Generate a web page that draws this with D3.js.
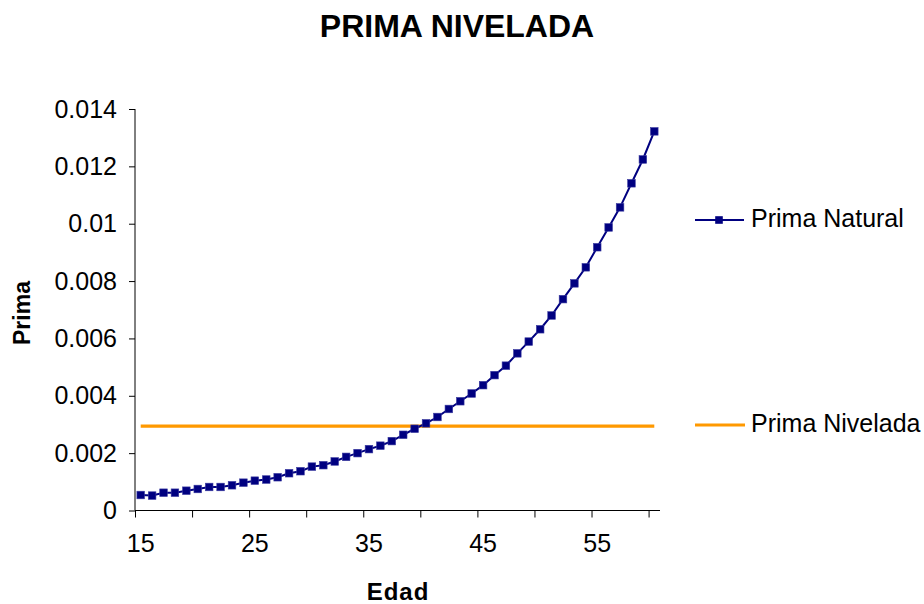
<!DOCTYPE html>
<html>
<head>
<meta charset="utf-8">
<script src="https://cdn.jsdelivr.net/npm/d3@7"></script>
<style>
  html, body { margin: 0; padding: 0; background: #fff; }
  svg { display: block; font-family: "Liberation Sans", Arial, sans-serif; }
</style>
</head>
<body>
<svg id="chart" width="924" height="604"></svg>
<script>
// Ages on the category axis
const edades = d3.range(15, 61);
// Natural (yearly) premium per age
const primaNatural = [
  0.00054, 0.00052, 0.00062, 0.00062, 0.00069, 0.00075, 0.00082, 0.00082, 0.00088, 0.00097,
  0.00104, 0.00108, 0.00116, 0.00130, 0.00137, 0.00153, 0.00158, 0.00171, 0.00187, 0.00200,
  0.00214, 0.00226, 0.00242, 0.00264, 0.00285, 0.00304, 0.00326, 0.00354, 0.00381, 0.00408,
  0.00437, 0.00472, 0.00505, 0.00548, 0.00589, 0.00632, 0.00680, 0.00737, 0.00792, 0.00848,
  0.00918, 0.00987, 0.01057, 0.01141, 0.01224, 0.01322
];
// Level premium, constant across ages
const primaNivelada = edades.map(() => 0.00294);
// Axis ticks
const yTicks = [0, 0.002, 0.004, 0.006, 0.008, 0.01, 0.012, 0.014];
const xLabels = [15, 25, 35, 45, 55];
const seriesNames = ["Prima Natural", "Prima Nivelada"];

const navy = "#000080";
const orange = "#FF9900";

const svg = d3.select("#chart");
const plotLeft = 135, plotRight = 660, plotTop = 109, plotBottom = 510.5;

const x = d3.scaleBand().domain(edades).range([plotLeft, plotRight]).padding(0);
const xIdx = d3.scaleLinear().domain([0, edades.length]).range([plotLeft, plotRight]);
const y = d3.scaleLinear().domain([0, 0.014]).range([plotBottom, plotTop]);

// Title
svg.append("text")
  .attr("x", 457).attr("y", 37)
  .attr("text-anchor", "middle")
  .attr("font-size", 32).attr("font-weight", "bold")
  .text("PRIMA NIVELADA");

// Y axis
const yAxis = svg.append("g")
  .attr("transform", `translate(${plotLeft},0)`)
  .call(d3.axisLeft(y).tickValues(yTicks).tickSize(6).tickPadding(12)
    .tickFormat(d => String(+d.toFixed(3))));
yAxis.selectAll("text").attr("font-size", 25).attr("fill", "#000")
  .attr("font-family", "Liberation Sans, Arial, sans-serif");
yAxis.selectAll("line, path").attr("stroke", "#000");
yAxis.select(".domain").attr("d", `M0,${plotTop}H0V${plotBottom}`);

// X axis: tick marks every five categories, on category boundaries
const xTickAxis = svg.append("g")
  .attr("transform", `translate(0,${plotBottom})`)
  .call(d3.axisBottom(xIdx).tickValues(d3.range(0, edades.length, 5)).tickSize(7).tickFormat(""));
xTickAxis.selectAll("line, path").attr("stroke", "#000");
xTickAxis.select(".domain").attr("d", `M${plotLeft},0H${plotRight}`);

// X axis: labels centred on their categories
const xLabelAxis = svg.append("g")
  .attr("transform", `translate(0,${plotBottom})`)
  .call(d3.axisBottom(x).tickValues(xLabels).tickSize(0).tickPadding(24));
xLabelAxis.select(".domain").remove();
xLabelAxis.selectAll("text").attr("font-size", 25).attr("fill", "#000")
  .attr("font-family", "Liberation Sans, Arial, sans-serif");

// Axis titles
svg.append("text")
  .attr("x", 398).attr("y", 600)
  .attr("text-anchor", "middle")
  .attr("font-size", 24).attr("font-weight", "bold")
  .attr("letter-spacing", 1)
  .text("Edad");
svg.append("text")
  .attr("transform", "translate(30,313) rotate(-90)")
  .attr("text-anchor", "middle")
  .attr("font-size", 23).attr("font-weight", "bold")
  .text("Prima");

const cx = d => x(d) + x.bandwidth() / 2;

// Level premium line
svg.append("path")
  .datum(primaNivelada)
  .attr("fill", "none").attr("stroke", orange).attr("stroke-width", 3.2)
  .attr("d", d3.line().x((d, i) => cx(edades[i])).y(d => y(d)));

// Natural premium line with square markers
svg.append("path")
  .datum(primaNatural)
  .attr("fill", "none").attr("stroke", navy).attr("stroke-width", 2)
  .attr("d", d3.line().x((d, i) => cx(edades[i])).y(d => y(d)));

svg.append("g").selectAll("rect")
  .data(primaNatural)
  .join("rect")
  .attr("x", (d, i) => cx(edades[i]) - 3.8)
  .attr("y", d => y(d) - 3.8)
  .attr("width", 7.6).attr("height", 7.6)
  .attr("fill", navy).attr("stroke", "#3a3aa0").attr("stroke-width", 0.6);

// Legend
const legend = svg.append("g");
const legendY = [220, 425];
legend.append("line")
  .attr("x1", 695).attr("x2", 744).attr("y1", legendY[0]).attr("y2", legendY[0])
  .attr("stroke", navy).attr("stroke-width", 2);
legend.append("rect")
  .attr("x", 719 - 3.8).attr("y", legendY[0] - 3.8).attr("width", 7.6).attr("height", 7.6)
  .attr("fill", navy);
legend.append("line")
  .attr("x1", 695).attr("x2", 745).attr("y1", legendY[1]).attr("y2", legendY[1])
  .attr("stroke", orange).attr("stroke-width", 3.2);
legend.selectAll("text.lbl")
  .data(seriesNames)
  .join("text")
  .attr("class", "lbl")
  .attr("x", 751)
  .attr("y", (d, i) => legendY[i] + 7)
  .attr("font-size", 25)
  .text(d => d);
</script>
</body>
</html>
